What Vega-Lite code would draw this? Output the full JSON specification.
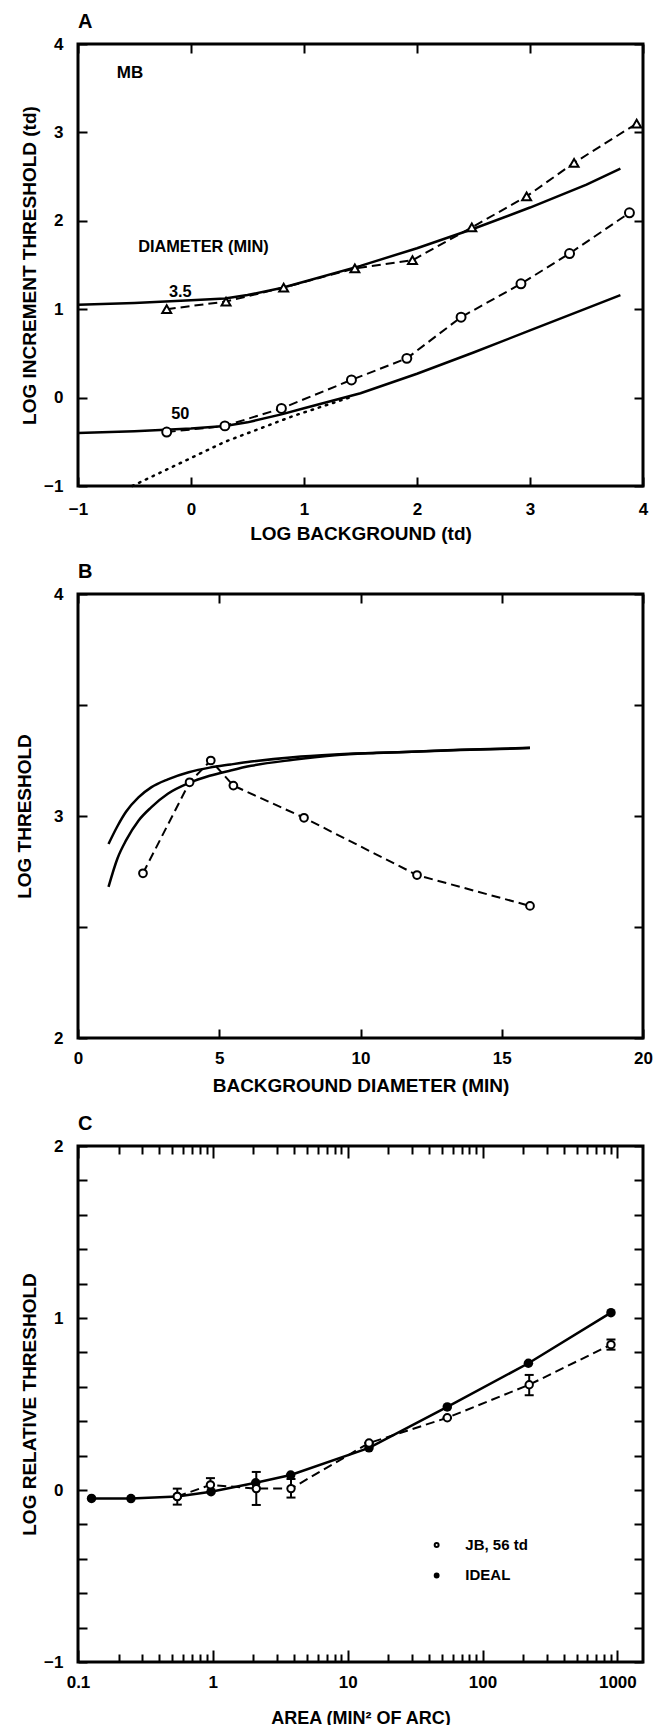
{
  "$schema": "https://vega.github.io/schema/vega-lite/v6.json",
  "padding": {"left": 14, "top": 10, "right": 10, "bottom": 0},
  "background": "white",
  "spacing": 108,
  "bounds": "flush",
  "datasets": {
    "a_pts": [
      {"series": "3.5", "x": -0.215, "y": 1.0},
      {"series": "3.5", "x": 0.31, "y": 1.087},
      {"series": "3.5", "x": 0.82, "y": 1.245},
      {"series": "3.5", "x": 1.45, "y": 1.462},
      {"series": "3.5", "x": 1.96, "y": 1.554},
      {"series": "3.5", "x": 2.485, "y": 1.926},
      {"series": "3.5", "x": 2.97, "y": 2.276},
      {"series": "3.5", "x": 3.39, "y": 2.656},
      {"series": "3.5", "x": 3.944, "y": 3.1},
      {"series": "50", "x": -0.215, "y": -0.39},
      {"series": "50", "x": 0.3, "y": -0.32},
      {"series": "50", "x": 0.8, "y": -0.123},
      {"series": "50", "x": 1.42, "y": 0.2},
      {"series": "50", "x": 1.91, "y": 0.444},
      {"series": "50", "x": 2.39, "y": 0.91},
      {"series": "50", "x": 2.92, "y": 1.287},
      {"series": "50", "x": 3.35, "y": 1.63},
      {"series": "50", "x": 3.88, "y": 2.09}
    ],
    "a_fit": [
      {"series": "3.5", "x": -1.0, "y": 1.05},
      {"series": "3.5", "x": -0.5, "y": 1.07},
      {"series": "3.5", "x": 0.0, "y": 1.1},
      {"series": "3.5", "x": 0.3, "y": 1.12},
      {"series": "3.5", "x": 0.5, "y": 1.16},
      {"series": "3.5", "x": 0.8, "y": 1.24},
      {"series": "3.5", "x": 1.0, "y": 1.31},
      {"series": "3.5", "x": 1.5, "y": 1.49},
      {"series": "3.5", "x": 2.0, "y": 1.69},
      {"series": "3.5", "x": 2.5, "y": 1.91},
      {"series": "3.5", "x": 3.0, "y": 2.15},
      {"series": "3.5", "x": 3.5, "y": 2.41},
      {"series": "3.5", "x": 3.8, "y": 2.59},
      {"series": "50", "x": -1.0, "y": -0.4},
      {"series": "50", "x": -0.5, "y": -0.38},
      {"series": "50", "x": 0.0, "y": -0.35},
      {"series": "50", "x": 0.3, "y": -0.32},
      {"series": "50", "x": 0.5, "y": -0.28},
      {"series": "50", "x": 0.8, "y": -0.19},
      {"series": "50", "x": 1.0, "y": -0.12},
      {"series": "50", "x": 1.5, "y": 0.05},
      {"series": "50", "x": 2.0, "y": 0.27},
      {"series": "50", "x": 2.5, "y": 0.51},
      {"series": "50", "x": 3.0, "y": 0.76},
      {"series": "50", "x": 3.5, "y": 1.01},
      {"series": "50", "x": 3.8, "y": 1.16}
    ],
    "a_dot": [
      {"x": -0.52, "y": -1.0},
      {"x": 0.3, "y": -0.5},
      {"x": 0.9, "y": -0.21},
      {"x": 1.4, "y": 0.0}
    ],
    "a_text": [
      {"x": -0.54, "y": 3.67, "label": "MB", "size": "big"},
      {"x": 0.11, "y": 1.7, "label": "DIAMETER (MIN)", "size": "small"},
      {"x": -0.095, "y": 1.2, "label": "3.5", "size": "small"},
      {"x": -0.095, "y": -0.19, "label": "50", "size": "small"}
    ],
    "b_pts": [
      {"x": 2.3, "y": 2.742},
      {"x": 3.95, "y": 3.152},
      {"x": 4.7, "y": 3.25},
      {"x": 5.5, "y": 3.137},
      {"x": 8.0, "y": 2.992},
      {"x": 12.0, "y": 2.734},
      {"x": 16.0, "y": 2.595}
    ],
    "b_fit": [
      {"curve": "upper", "x": 1.08, "y": 2.874},
      {"curve": "upper", "x": 1.4, "y": 2.955},
      {"curve": "upper", "x": 1.7, "y": 3.019},
      {"curve": "upper", "x": 2.14, "y": 3.084},
      {"curve": "upper", "x": 2.59, "y": 3.129},
      {"curve": "upper", "x": 3.18, "y": 3.165},
      {"curve": "upper", "x": 3.92, "y": 3.197},
      {"curve": "upper", "x": 4.66, "y": 3.218},
      {"curve": "upper", "x": 5.4, "y": 3.232},
      {"curve": "upper", "x": 6.13, "y": 3.245},
      {"curve": "upper", "x": 7.61, "y": 3.265},
      {"curve": "upper", "x": 9.09, "y": 3.277},
      {"curve": "upper", "x": 10.57, "y": 3.285},
      {"curve": "upper", "x": 12.05, "y": 3.29},
      {"curve": "upper", "x": 13.53, "y": 3.297},
      {"curve": "upper", "x": 16.0, "y": 3.306},
      {"curve": "lower", "x": 1.08, "y": 2.681},
      {"curve": "lower", "x": 1.4, "y": 2.81},
      {"curve": "lower", "x": 1.7, "y": 2.89},
      {"curve": "lower", "x": 2.14, "y": 2.979},
      {"curve": "lower", "x": 2.59, "y": 3.039},
      {"curve": "lower", "x": 3.18, "y": 3.1},
      {"curve": "lower", "x": 3.92, "y": 3.148},
      {"curve": "lower", "x": 4.66, "y": 3.181},
      {"curve": "lower", "x": 5.4, "y": 3.205},
      {"curve": "lower", "x": 6.13, "y": 3.226},
      {"curve": "lower", "x": 7.61, "y": 3.253},
      {"curve": "lower", "x": 9.09, "y": 3.274},
      {"curve": "lower", "x": 10.57, "y": 3.284},
      {"curve": "lower", "x": 12.05, "y": 3.291},
      {"curve": "lower", "x": 13.53, "y": 3.298},
      {"curve": "lower", "x": 16.0, "y": 3.307}
    ],
    "c_ideal": [
      {"area": 0.126, "y": -0.049},
      {"area": 0.247, "y": -0.05},
      {"area": 0.545, "y": -0.038},
      {"area": 0.97, "y": -0.01},
      {"area": 2.08, "y": 0.042},
      {"area": 3.78, "y": 0.087},
      {"area": 14.4, "y": 0.245},
      {"area": 54.8, "y": 0.483},
      {"area": 219, "y": 0.737},
      {"area": 897, "y": 1.031}
    ],
    "c_jb": [
      {"area": 0.545, "y": -0.038, "lo": -0.085, "hi": 0.008},
      {"area": 0.96, "y": 0.03, "lo": -0.012, "hi": 0.069},
      {"area": 2.1, "y": 0.008, "lo": -0.087, "hi": 0.105},
      {"area": 3.8, "y": 0.008, "lo": -0.044, "hi": 0.064},
      {"area": 14.4, "y": 0.273, "lo": 0.273, "hi": 0.273},
      {"area": 54.8, "y": 0.42, "lo": 0.42, "hi": 0.42},
      {"area": 222, "y": 0.612, "lo": 0.551, "hi": 0.669},
      {"area": 897, "y": 0.845, "lo": 0.816, "hi": 0.875}
    ],
    "c_legend": [
      {"area": 45.7, "y": -0.32, "kind": "JB", "tx": 74.6, "label": "JB, 56 td"},
      {"area": 45.7, "y": -0.497, "kind": "IDEAL", "tx": 74.6, "label": "IDEAL"}
    ]
  },
  "vconcat": [
    {
      "width": 565,
      "height": 442,
      "title": {"text": "A"},
      "resolve": {"axis": {"x": "independent", "y": "independent"}},
      "layer": [
        {
          "data": {"name": "a_dot"},
          "mark": {"type": "line", "color": "black", "strokeWidth": 2.5, "strokeDash": [1.5, 6], "strokeCap": "round"},
          "encoding": {
            "x": {"field": "x", "type": "quantitative", "scale": {"domain": [-1, 4], "nice": false, "zero": false},
                  "axis": {"orient": "bottom", "values": [-1, 0, 1, 2, 3, 4], "format": "d", "title": "LOG BACKGROUND (td)", "labelPadding": 24, "titlePadding": 7}},
            "y": {"field": "y", "type": "quantitative", "scale": {"domain": [-1, 4], "nice": false, "zero": false},
                  "axis": {"orient": "left", "values": [-1, 0, 1, 2, 3, 4], "format": "d", "title": "LOG INCREMENT THRESHOLD (td)", "labelPadding": 24, "titlePadding": 4}}
          }
        },
        {
          "data": {"name": "a_fit"},
          "mark": {"type": "line", "color": "black", "strokeWidth": 2.5},
          "encoding": {
            "x": {"field": "x", "type": "quantitative", "axis": null},
            "y": {"field": "y", "type": "quantitative", "axis": null},
            "detail": {"field": "series"}
          }
        },
        {
          "data": {"name": "a_pts"},
          "mark": {"type": "line", "color": "black", "strokeWidth": 2, "strokeDash": [9, 5]},
          "encoding": {
            "x": {"field": "x", "type": "quantitative", "axis": {"orient": "top", "values": [-1, 0, 1, 2, 3, 4], "labels": false, "title": null}},
            "y": {"field": "y", "type": "quantitative", "axis": {"orient": "right", "values": [-1, 0, 1, 2, 3, 4], "labels": false, "title": null}},
            "detail": {"field": "series"}
          }
        },
        {
          "data": {"name": "a_pts"},
          "mark": {"type": "point", "filled": true, "fill": "white", "stroke": "black", "strokeWidth": 2, "size": 80, "opacity": 1},
          "encoding": {
            "x": {"field": "x", "type": "quantitative", "axis": null},
            "y": {"field": "y", "type": "quantitative", "axis": null},
            "shape": {"field": "series", "type": "nominal", "scale": {"domain": ["3.5", "50"], "range": ["triangle-up", "circle"]}, "legend": null}
          }
        },
        {
          "data": {"name": "a_text"},
          "mark": {"type": "text", "font": "Liberation Sans", "fontWeight": "bold", "color": "black"},
          "encoding": {
            "x": {"field": "x", "type": "quantitative", "axis": null},
            "y": {"field": "y", "type": "quantitative", "axis": null},
            "text": {"field": "label"},
            "size": {"field": "size", "type": "nominal", "scale": {"domain": ["big", "small"], "range": [17, 15]}, "legend": null}
          }
        }
      ]
    },
    {
      "width": 565,
      "height": 444,
      "title": {"text": "B"},
      "resolve": {"axis": {"x": "independent", "y": "independent"}},
      "layer": [
        {
          "data": {"name": "b_fit"},
          "mark": {"type": "line", "color": "black", "strokeWidth": 2.5, "interpolate": "monotone"},
          "encoding": {
            "x": {"field": "x", "type": "quantitative", "scale": {"domain": [0, 20], "nice": false},
                  "axis": {"orient": "bottom", "values": [0, 5, 10, 15, 20], "format": "d", "title": "BACKGROUND DIAMETER (MIN)", "labelPadding": 21, "titlePadding": 10}},
            "y": {"field": "y", "type": "quantitative", "scale": {"domain": [2, 4], "nice": false, "zero": false},
                  "axis": {"orient": "left", "values": [2, 2.5, 3, 3.5, 4], "format": "~g", "labelExpr": "datum.value % 1 == 0 ? datum.label : ''", "title": "LOG THRESHOLD", "labelPadding": 24, "titlePadding": 19}},
            "detail": {"field": "curve"}
          }
        },
        {
          "data": {"name": "b_pts"},
          "mark": {"type": "line", "color": "black", "strokeWidth": 2, "strokeDash": [9, 5]},
          "encoding": {
            "x": {"field": "x", "type": "quantitative", "axis": {"orient": "top", "values": [0, 5, 10, 15, 20], "labels": false, "title": null}},
            "y": {"field": "y", "type": "quantitative", "axis": {"orient": "right", "values": [2, 2.5, 3, 3.5, 4], "labels": false, "title": null}}
          }
        },
        {
          "data": {"name": "b_pts"},
          "mark": {"type": "point", "filled": true, "fill": "white", "stroke": "black", "strokeWidth": 2, "size": 60, "shape": "circle", "opacity": 1},
          "encoding": {
            "x": {"field": "x", "type": "quantitative", "axis": null},
            "y": {"field": "y", "type": "quantitative", "axis": null}
          }
        }
      ]
    },
    {
      "width": 565,
      "height": 516,
      "title": {"text": "C"},
      "resolve": {"axis": {"x": "independent", "y": "independent"}},
      "layer": [
        {
          "data": {"name": "c_ideal"},
          "mark": {"type": "line", "color": "black", "strokeWidth": 2.5},
          "encoding": {
            "x": {"field": "area", "type": "quantitative", "scale": {"type": "log", "domain": [0.1, 1550], "nice": false},
                  "axis": {"orient": "bottom", "values": [0.1, 0.2, 0.3, 0.4, 0.5, 0.6, 0.7, 0.8, 0.9, 1, 2, 3, 4, 5, 6, 7, 8, 9, 10, 20, 30, 40, 50, 60, 70, 80, 90, 100, 200, 300, 400, 500, 600, 700, 800, 900, 1000],
                           "format": "~g", "labelExpr": "indexof([0.1, 1, 10, 100, 1000], datum.value) >= 0 ? datum.label : ''",
                           "tickSize": {"condition": {"test": "indexof([0.1, 1, 10, 100, 1000], datum.value) >= 0", "value": -12}, "value": -8},
                           "title": "AREA (MIN² OF ARC)", "titleFontSize": 18, "labelPadding": 24, "titlePadding": 15}},
            "y": {"field": "y", "type": "quantitative", "scale": {"domain": [-1, 2], "nice": false, "zero": false},
                  "axis": {"orient": "left", "values": [-1, -0.8, -0.6, -0.4, -0.2, 0, 0.2, 0.4, 0.6, 0.8, 1, 1.2, 1.4, 1.6, 1.8, 2], "format": "~g",
                           "labelExpr": "datum.value % 1 == 0 ? datum.label : ''", "title": "LOG RELATIVE THRESHOLD", "labelPadding": 24, "titlePadding": 4}}
          }
        },
        {
          "data": {"name": "c_jb"},
          "mark": {"type": "line", "color": "black", "strokeWidth": 2, "strokeDash": [9, 5]},
          "encoding": {
            "x": {"field": "area", "type": "quantitative",
                  "axis": {"orient": "top", "values": [0.1, 0.2, 0.3, 0.4, 0.5, 0.6, 0.7, 0.8, 0.9, 1, 2, 3, 4, 5, 6, 7, 8, 9, 10, 20, 30, 40, 50, 60, 70, 80, 90, 100, 200, 300, 400, 500, 600, 700, 800, 900, 1000],
                           "labels": false, "title": null,
                           "tickSize": {"condition": {"test": "indexof([0.1, 1, 10, 100, 1000], datum.value) >= 0", "value": -12}, "value": -8}}},
            "y": {"field": "y", "type": "quantitative",
                  "axis": {"orient": "right", "values": [-1, -0.8, -0.6, -0.4, -0.2, 0, 0.2, 0.4, 0.6, 0.8, 1, 1.2, 1.4, 1.6, 1.8, 2], "labels": false, "title": null}}
          }
        },
        {
          "data": {"name": "c_jb"},
          "mark": {"type": "rule", "color": "black", "strokeWidth": 2},
          "encoding": {
            "x": {"field": "area", "type": "quantitative", "axis": null},
            "y": {"field": "lo", "type": "quantitative", "axis": null},
            "y2": {"field": "hi"}
          }
        },
        {
          "data": {"name": "c_jb"},
          "mark": {"type": "tick", "color": "black", "orient": "horizontal", "size": 9, "thickness": 2, "opacity": 1},
          "encoding": {
            "x": {"field": "area", "type": "quantitative", "axis": null},
            "y": {"field": "lo", "type": "quantitative", "axis": null}
          }
        },
        {
          "data": {"name": "c_jb"},
          "mark": {"type": "tick", "color": "black", "orient": "horizontal", "size": 9, "thickness": 2, "opacity": 1},
          "encoding": {
            "x": {"field": "area", "type": "quantitative", "axis": null},
            "y": {"field": "hi", "type": "quantitative", "axis": null}
          }
        },
        {
          "data": {"name": "c_ideal"},
          "mark": {"type": "point", "filled": true, "color": "black", "size": 90, "shape": "circle", "opacity": 1},
          "encoding": {
            "x": {"field": "area", "type": "quantitative", "axis": null},
            "y": {"field": "y", "type": "quantitative", "axis": null}
          }
        },
        {
          "data": {"name": "c_jb"},
          "mark": {"type": "point", "filled": true, "fill": "white", "stroke": "black", "strokeWidth": 2, "size": 55, "shape": "circle", "opacity": 1},
          "encoding": {
            "x": {"field": "area", "type": "quantitative", "axis": null},
            "y": {"field": "y", "type": "quantitative", "axis": null}
          }
        },
        {
          "data": {"name": "c_legend"},
          "mark": {"type": "point", "filled": true, "stroke": "black", "strokeWidth": 2, "shape": "circle", "opacity": 1},
          "encoding": {
            "x": {"field": "area", "type": "quantitative", "axis": null},
            "y": {"field": "y", "type": "quantitative", "axis": null},
            "fill": {"field": "kind", "type": "nominal", "scale": {"domain": ["JB", "IDEAL"], "range": ["white", "black"]}, "legend": null},
            "size": {"field": "kind", "type": "nominal", "scale": {"domain": ["JB", "IDEAL"], "range": [55, 90]}, "legend": null}
          }
        },
        {
          "data": {"name": "c_legend"},
          "mark": {"type": "text", "font": "Liberation Sans", "fontWeight": "bold", "fontSize": 15, "color": "black", "align": "left", "baseline": "middle"},
          "encoding": {
            "x": {"field": "tx", "type": "quantitative", "axis": null},
            "y": {"field": "y", "type": "quantitative", "axis": null},
            "text": {"field": "label"}
          }
        }
      ]
    }
  ],
  "config": {
    "view": {"stroke": "black", "strokeWidth": 3, "fill": "white"},
    "font": "Liberation Sans",
    "axis": {
      "domain": false, "grid": false, "ticks": true, "tickColor": "black", "tickWidth": 2, "tickSize": -9,
      "labelFont": "Liberation Sans", "labelFontWeight": "bold", "labelFontSize": 17, "labelColor": "black",
      "labelPadding": 20, "labelFlush": false, "labelOverlap": false, "labelBound": false,
      "titleFont": "Liberation Sans", "titleFontWeight": "bold", "titleFontSize": 19, "titleColor": "black"
    },
    "title": {"anchor": "start", "frame": "group", "font": "Liberation Sans", "fontWeight": "bold", "fontSize": 20, "color": "black", "baseline": "alphabetic", "offset": 3}
  }
}
